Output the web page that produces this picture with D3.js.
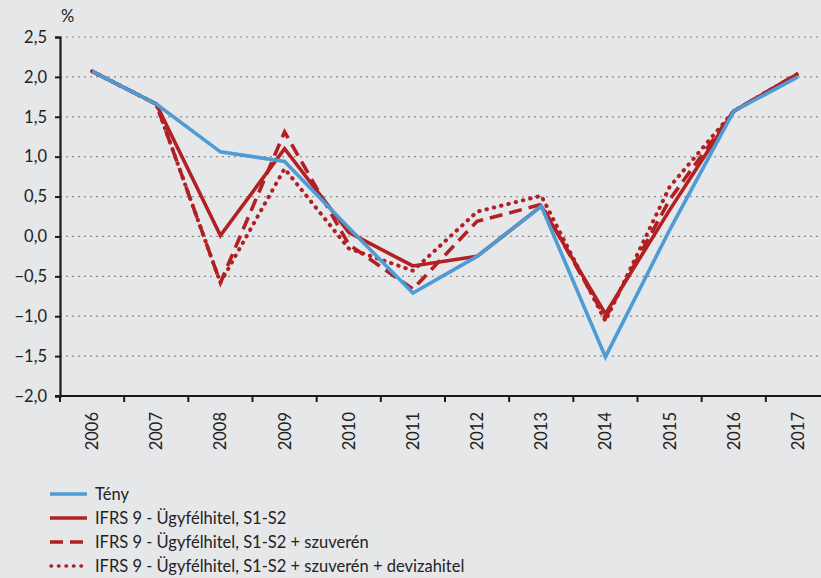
<!DOCTYPE html>
<html>
<head>
<meta charset="utf-8">
<script src="https://cdn.jsdelivr.net/npm/d3@7"></script>
<style>
	body { margin: 0; background: #e6e7e9; }
	svg { display: block; font-family: Lato, "Open Sans", sans-serif; }
</style>
</head>
<body>
<svg id="chart" width="821" height="578"></svg>
<script>
var years = ['2006', '2007', '2008', '2009', '2010', '2011', '2012', '2013', '2014', '2015', '2016', '2017'];
var yTicks = [-2.0, -1.5, -1.0, -0.5, 0.0, 0.5, 1.0, 1.5, 2.0, 2.5];

var teny = [2.07, 1.66, 1.06, 0.94, 0.11, -0.71, -0.25, 0.38, -1.51, 0.08, 1.57, 2.0];
var s1s2 = [2.07, 1.66, 0.01, 1.10, 0.05, -0.37, -0.25, 0.38, -0.97, 0.33, 1.57, 2.04];
var szuveren = [2.07, 1.66, -0.58, 1.31, -0.10, -0.66, 0.19, 0.40, -1.02, 0.46, 1.57, 2.04];
var deviza = [2.07, 1.66, -0.58, 0.85, -0.15, -0.43, 0.31, 0.51, -1.06, 0.62, 1.57, 2.04];

var seriesNames = ['Tény', 'IFRS 9 - Ügyfélhitel, S1-S2', 'IFRS 9 - Ügyfélhitel, S1-S2 + szuverén', 'IFRS 9 - Ügyfélhitel, S1-S2 + szuverén + devizahitel'];

var red = '#b22024';
var blue = '#4e9bd5';

var series = [
	{name: seriesNames[0], values: teny, color: blue, dash: null, cap: 'butt'},
	{name: seriesNames[1], values: s1s2, color: red, dash: null, cap: 'butt'},
	{name: seriesNames[2], values: szuveren, color: red, dash: '13,7', cap: 'butt'},
	{name: seriesNames[3], values: deviza, color: red, dash: '0.5,7', cap: 'round'}
];

var svg = d3.select('#chart');
var plotLeft = 60, plotTop = 37, plotBottom = 396, plotRight = 830;

var x = d3.scaleBand().domain(years).range([plotLeft, plotRight]);
var y = d3.scaleLinear().domain([-2, 2.5]).range([plotBottom, plotTop]);

var fmt = function(d){ return d3.format('.1f')(d).replace('.', ',').replace('-', '\u2212'); };

// dotted gridlines
svg.append('g')
	.selectAll('line')
	.data(yTicks.filter(function(d){ return d > -2; }))
	.enter().append('line')
	.attr('x1', plotLeft).attr('x2', 821)
	.attr('y1', function(d){ return y(d); })
	.attr('y2', function(d){ return y(d); })
	.attr('stroke', '#8a8a8a')
	.attr('stroke-width', 1.2)
	.attr('stroke-dasharray', '2,4');

// y axis
var yAxis = svg.append('g')
	.attr('transform', 'translate(' + plotLeft + ',0)')
	.call(d3.axisLeft(y).tickValues(yTicks).tickFormat(fmt).tickSize(5).tickPadding(8));
yAxis.select('.domain').attr('stroke', '#1a1a1a').attr('stroke-width', 2.2);
yAxis.selectAll('.tick line').attr('stroke', '#1a1a1a').attr('stroke-width', 2);
yAxis.selectAll('text').attr('font-size', 16.5).attr('fill', '#222').attr('font-family', 'Lato, sans-serif');

svg.append('text')
	.attr('x', 61).attr('y', 22)
	.attr('font-size', 16.5).attr('fill', '#222')
	.text('%');

// x axis, ticks at band boundaries
var xAxis = svg.append('g').attr('transform', 'translate(0,' + plotBottom + ')');
xAxis.append('line')
	.attr('x1', plotLeft - 5).attr('x2', 821)
	.attr('stroke', '#1a1a1a').attr('stroke-width', 2.2);
xAxis.selectAll('line.tk')
	.data(years)
	.enter().append('line')
	.attr('class', 'tk')
	.attr('x1', function(d){ return x(d); })
	.attr('x2', function(d){ return x(d); })
	.attr('y1', 0).attr('y2', 6)
	.attr('stroke', '#1a1a1a').attr('stroke-width', 2);
xAxis.selectAll('text')
	.data(years)
	.enter().append('text')
	.attr('transform', function(d){ return 'translate(' + (x(d) + x.bandwidth() / 2 + 6) + ',16) rotate(-90)'; })
	.attr('text-anchor', 'end')
	.attr('font-size', 16.5).attr('fill', '#222')
	.text(function(d){ return d; });

// lines
var line = d3.line()
	.x(function(d, i){ return x(years[i]) + x.bandwidth() / 2; })
	.y(function(d){ return y(d); });

svg.append('g')
	.selectAll('path')
	.data(series.slice().reverse())
	.enter().append('path')
	.attr('d', function(d){ return line(d.values); })
	.attr('fill', 'none')
	.attr('stroke', function(d){ return d.color; })
	.attr('stroke-width', function(d){ return d.cap === 'round' ? 4 : 3.6; })
	.attr('stroke-linecap', function(d){ return d.cap; })
	.attr('stroke-linejoin', 'miter')
	.attr('stroke-dasharray', function(d){ return d.dash; });

// legend
var legend = svg.append('g').attr('transform', 'translate(50,494)');
var item = legend.selectAll('g')
	.data(series)
	.enter().append('g')
	.attr('transform', function(d, i){ return 'translate(0,' + (i * 24) + ')'; });
item.append('line')
	.attr('x1', function(d){ return d.cap === 'round' ? 1 : 0; })
	.attr('x2', 37)
	.attr('stroke', function(d){ return d.color; })
	.attr('stroke-width', 3.6)
	.attr('stroke-linecap', function(d){ return d.cap; })
	.attr('stroke-dasharray', function(d){ return d.dash; });
item.append('text')
	.attr('x', 45).attr('y', 6)
	.attr('font-size', 16.5).attr('fill', '#222')
	.text(function(d){ return d.name; });
</script>
</body>
</html>
